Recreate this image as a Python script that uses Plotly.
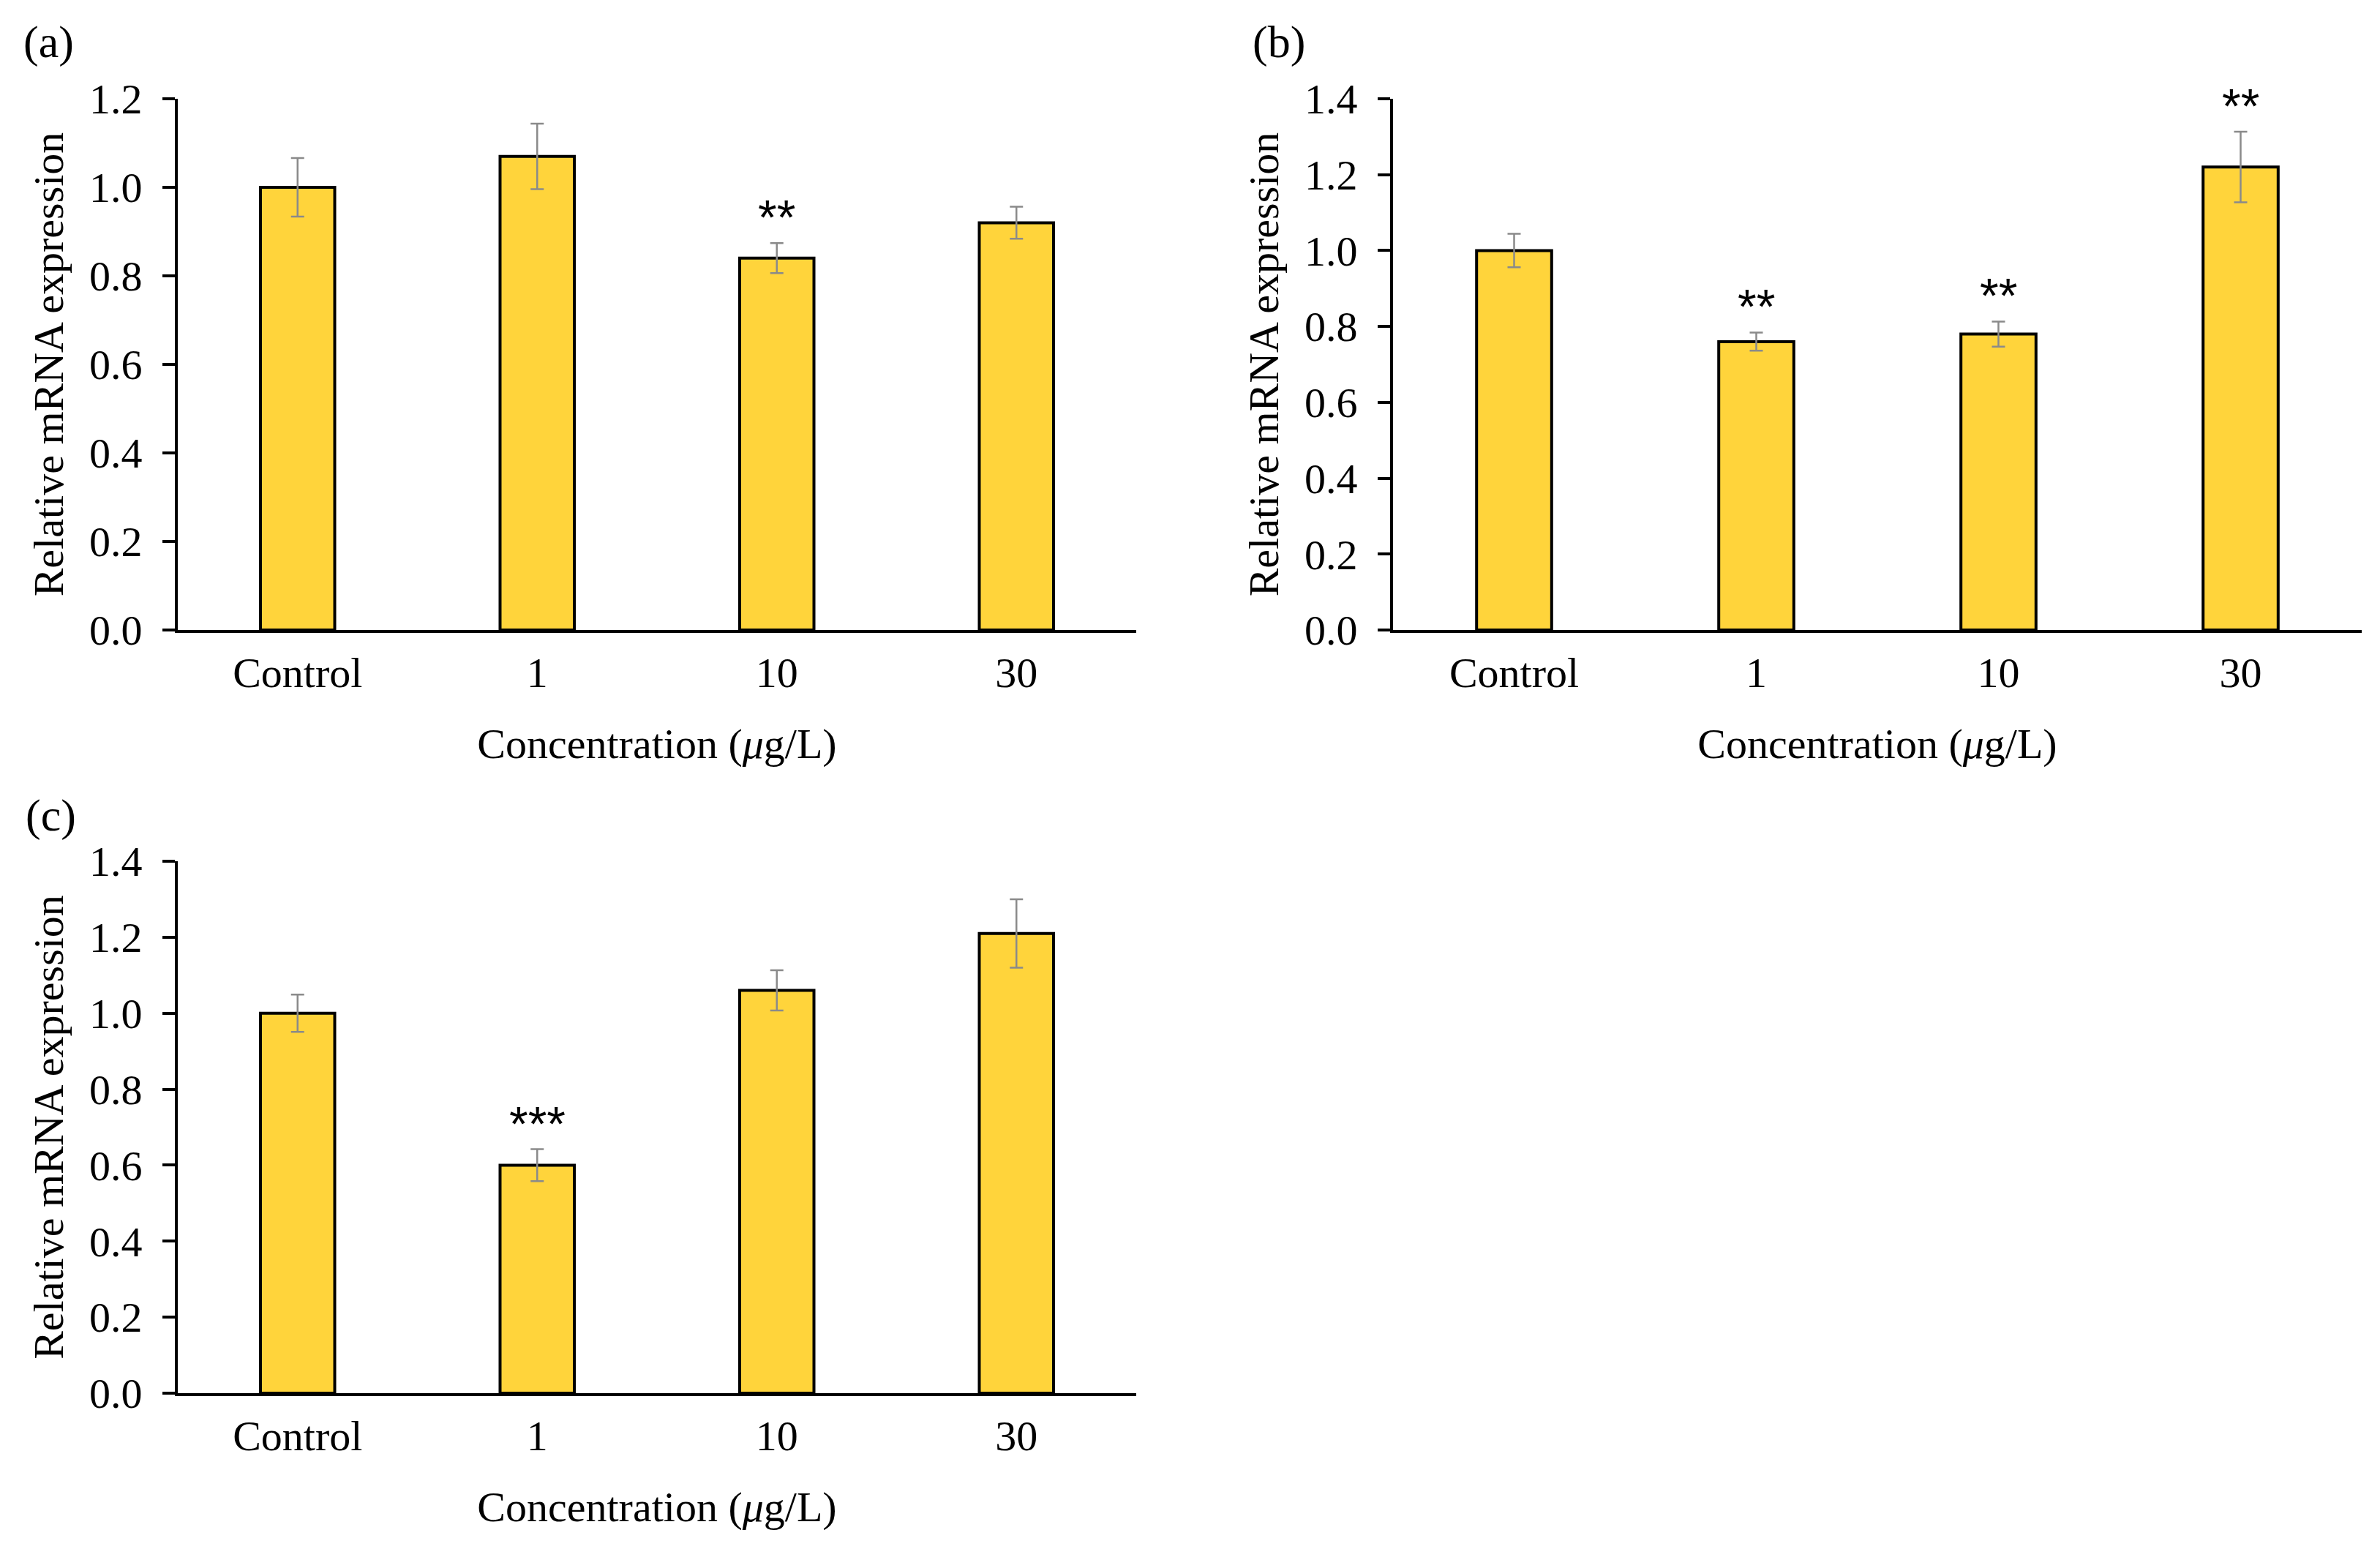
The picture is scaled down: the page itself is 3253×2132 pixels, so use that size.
import plotly.graph_objects as go

W, H = 3253, 2132

categories = ["Control", "1", "10", "30"]

mean_a = [1.00, 1.07, 0.84, 0.92]
err_a = [0.066, 0.074, 0.034, 0.036]
stars_a = ["", "", "**", ""]

mean_b = [1.00, 0.76, 0.78, 1.22]
err_b = [0.044, 0.024, 0.033, 0.093]
stars_b = ["", "**", "**", "**"]

mean_c = [1.00, 0.60, 1.06, 1.21]
err_c = [0.049, 0.042, 0.053, 0.090]
stars_c = ["", "***", "", ""]

panel_labels = ["(a)", "(b)", "(c)"]
y_max = [1.2, 1.4, 1.4]

BAR_COLOR = "#FFD43B"
ERR_COLOR = "#8a8a8a"
SERIF = "Liberation Serif"

# pixel boxes of the three plot areas: (left, right, top, bottom)
boxes = [
    (243, 1553, 135, 861),
    (1904, 3228, 135, 861),
    (243, 1553, 1177, 1904),
]
label_pos = [(66, 58), (1748, 58), (69, 1114)]

panels = [
    (mean_a, err_a, stars_a),
    (mean_b, err_b, stars_b),
    (mean_c, err_c, stars_c),
]

fig = go.Figure()
layout = {}
annotations = []

for i, (means, errs, stars) in enumerate(panels):
    n = "" if i == 0 else str(i + 1)
    xa, ya = "x" + n, "y" + n
    fig.add_trace(go.Bar(
        x=categories, y=means,
        xaxis=xa, yaxis=ya,
        width=0.31,
        marker=dict(color=BAR_COLOR, line=dict(color="black", width=4)),
        error_y=dict(type="data", array=errs, visible=True,
                     color=ERR_COLOR, thickness=2.5, width=9),
        showlegend=False,
    ))

    l, r, t, b = boxes[i]
    layout["xaxis" + n] = dict(
        domain=[l / W, r / W], anchor=ya, type="category",
        range=[-0.5, 3.5], showline=True, linecolor="black", linewidth=4,
        ticks="", showgrid=False, zeroline=False, automargin=False,
        tickfont=dict(family=SERIF, size=58, color="black"),
        ticklabelstandoff=4,
        title=dict(text="Concentration (<i>μ</i>g/L)", standoff=46,
                   font=dict(family=SERIF, size=58, color="black")),
    )
    layout["yaxis" + n] = dict(
        domain=[1 - b / H, 1 - t / H], anchor=xa,
        range=[0, y_max[i]], dtick=0.2, tickformat=".1f",
        showline=True, linecolor="black", linewidth=4,
        ticks="outside", ticklen=17, tickwidth=4, tickcolor="black",
        showgrid=False, zeroline=False, automargin=False,
        tickfont=dict(family=SERIF, size=58, color="black"),
        ticklabelstandoff=16,
        title=dict(text="Relative mRNA expression", standoff=18,
                   font=dict(family=SERIF, size=58, color="black")),
    )

    for k, (m, e, s) in enumerate(zip(means, errs, stars)):
        if s:
            annotations.append(dict(
                x=k, y=m + e, xref=xa, yref=ya, text=s, showarrow=False,
                yanchor="middle", yshift=35,
                font=dict(family="Liberation Sans", size=66, color="black"),
            ))

    lx, ly = label_pos[i]
    annotations.append(dict(
        x=lx / W, y=1 - ly / H, xref="paper", yref="paper",
        text=panel_labels[i], showarrow=False,
        xanchor="center", yanchor="middle",
        font=dict(family=SERIF, size=62, color="black"),
    ))

fig.update_layout(
    width=W, height=H,
    margin=dict(l=0, r=0, t=0, b=0),
    paper_bgcolor="white", plot_bgcolor="white",
    annotations=annotations,
    **layout,
)

# drop the default page margin so the figure sits at the window corner
fig.write_html("out.html", config={"displayModeBar": False},
               post_script="document.body.style.margin='0';")
